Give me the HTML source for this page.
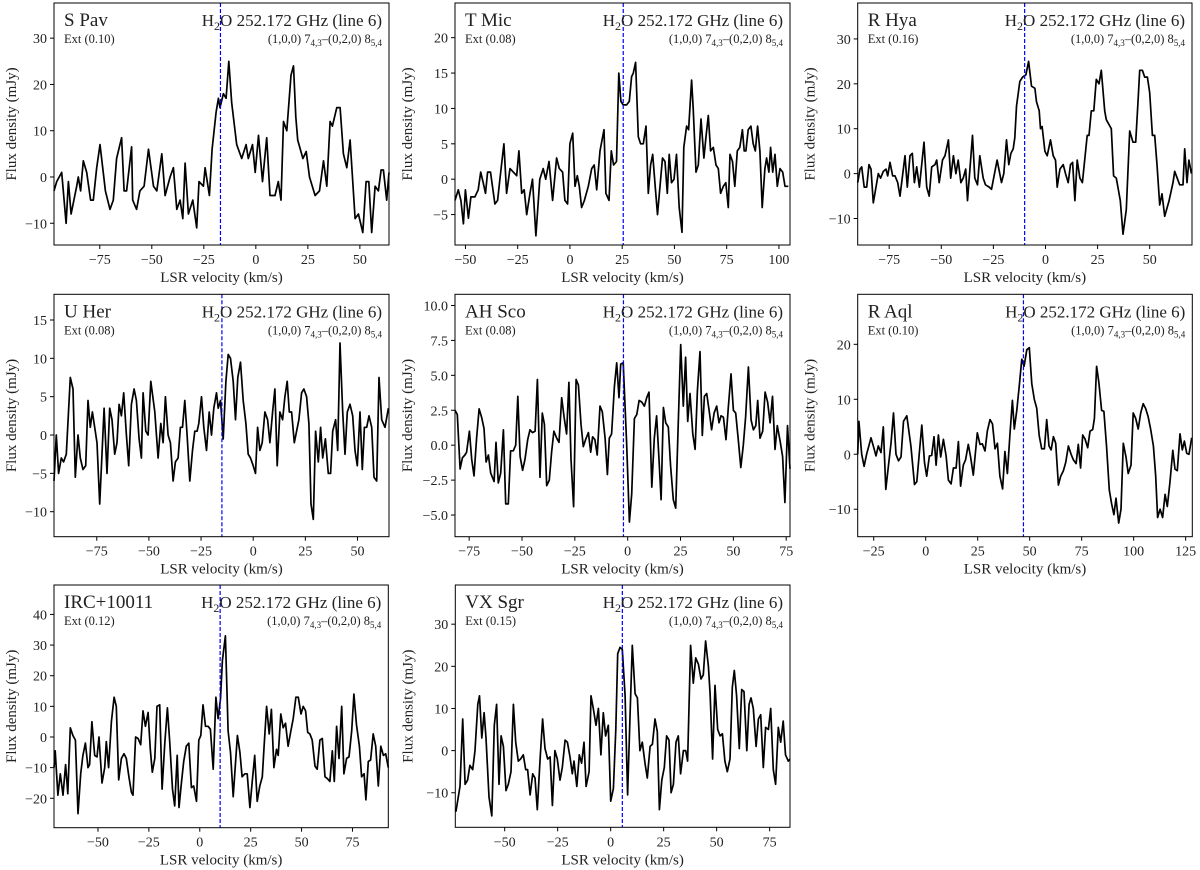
<!DOCTYPE html>
<html><head><meta charset="utf-8"><style>
html,body{margin:0;padding:0;background:#fff;}
svg{display:block;font-family:"Liberation Serif","DejaVu Serif",serif;}
</style></head><body>
<svg id="fig" width="1200" height="870" viewBox="0 0 1200 870" xmlns="http://www.w3.org/2000/svg"></svg>
<script>
const sPavVel=[-97,-95.7,-93.3,-91.2,-90.1,-88.8,-86.1,-85.3,-84.2,-82.9,-81.3,-79.4,-78.1,-76.5,-74.9,-72.3,-70.1,-68.5,-66.9,-64.5,-63.3,-62.1,-59.7,-59.2,-57.3,-55.7,-53.7,-51.6,-49.2,-47.6,-45.2,-43.6,-41.2,-39.6,-38,-36.4,-35.1,-34,-32.4,-30.3,-28.4,-27.3,-25.2,-24.4,-22.3,-21,-19.1,-18,-17.2,-15.6,-14.3,-13,-11.6,-9.2,-6.8,-4.7,-3.6,-1.6,-0.3,1.3,3.2,5.2,6.8,9.2,10.8,12.1,13.3,14.9,16.9,18.1,19.2,20.1,22.6,24.2,25.8,28.5,30.6,32.5,34.1,35.7,36.8,38.9,40.5,42.1,43.7,45.3,47.7,49.3,51.4,53,54.3,55.7,57.3,58.9,60.2,61.3,62.9,64];
const sPavFlux=[-3,-1,1,-10,-1,-8,-2,0,-3,3.5,1,-5,-5,2,7,-3,-7,-5,4,8.5,-3,-3,6.5,-5,-7,-3,-2,6,-2,-3,5,-4,0,2,-7,-5,-9,3,-8,-5,-11,-1,-2,2,-4,6,14,17,15,18,17,25,16,7,4,7,4,7,1,9,-1,8.5,-4,-4,-1,-5,12,10,22,24,13,8,4,5.5,0,-4,-3,3.5,-2,12,11,15,15,5,2,8,-9,-8,-12,-1,-1,-12,-2,-3,1.5,1.5,-5,1];

const tMicVel=[-55,-53.4,-52.2,-51,-50,-48.6,-47.4,-45.5,-43.9,-42.7,-41.5,-40.4,-39.4,-38,-35.9,-34.6,-33.5,-31.6,-30.3,-28.7,-27.1,-25.5,-24.4,-23.1,-21.9,-20.7,-19.1,-17.9,-16.3,-14.4,-12.8,-11.6,-10,-8.3,-6.4,-5.1,-3.5,-2.4,-1.1,0,1.3,2.4,3.5,4.5,5.6,6.9,8.8,10.4,11.6,12.8,14.4,16.3,17.2,18.7,19.8,20.9,22.3,23.4,24.4,25.5,27.1,28.4,29.5,30.3,31.4,32.7,33.8,35.1,36.4,37.5,38.6,39.6,40.8,41.9,43.1,44.3,45.5,46.6,47.5,48.6,49.8,51,52.3,53.6,54.5,55.8,56.8,58.2,59,60.3,61.4,62.7,64.1,65.1,66.2,67.3,68.6,69.9,71,72.1,73.4,74.6,75.8,76.6,77.8,78.9,80.1,81.3,82.5,83.4,84.2,85.3,86.6,87.7,88.7,89.8,90.9,92,93.3,94.1,95.2,96,97,98.1,99.2,100.5,101.8,102.9,104.5];
const tMicFlux=[-3,-1.5,-3,-6.3,-1.5,-5.5,-2.5,-2.5,-1.5,1,-0.5,-2,1,1,-3.5,-3,0,5,-2,1.5,1,0.5,4,-2,-1.5,-5,-2,0,-8,0,1.5,0,2.5,-3,3,1.5,1,-3,-3.5,5,6.5,-1,0.5,-1,-4,-3,-1,1.5,2,-1.5,4,7,-2,-3,4,2,2.5,15,11,10.5,10.5,11,14.5,15,16.5,6,5,5,7.5,-2,2,3.5,-1,-5,-1,3,2.5,-2,3.5,-0.5,0,3.5,-4,-7.5,4.5,7.5,7,14,10,1,2,8.5,3,6,9,4,4.5,2,1.5,-2,-1,-0.5,-4,3.5,2.5,-1,4,4.5,7,4,4,7,7.5,5,4,7.5,4,-4,1.5,3,1,4.5,1,3.5,-1,1.5,1,-1,-1];

const rHyaVel=[-90.1,-89,-88.2,-87,-85.8,-84.7,-83.7,-82.6,-81.3,-80.2,-79.1,-77.8,-76.5,-75.7,-74.6,-73.3,-72.2,-70.9,-69.8,-67.4,-66.3,-65,-63.9,-62.9,-61.8,-60.5,-58.3,-57,-55.8,-54.6,-53,-52.2,-51,-49.4,-48.2,-46.6,-45.5,-44.2,-43,-41.9,-40.6,-39.5,-38.3,-37.4,-35,-33.9,-32.6,-31.5,-29.9,-28.8,-27,-25.9,-23.2,-21.1,-20,-18.7,-17.6,-16.6,-15.5,-14.7,-13.9,-12.3,-11,-9.4,-8.1,-6.7,-5.1,-4.3,-3,-2.4,-1.6,-0.3,0.8,2.4,3.7,4.8,5.6,6.9,8.5,9.6,10.9,12,13,14.1,15.2,16.5,17.7,20,20.9,22,23.2,24.4,25.7,26.8,28.4,29.2,31.6,32.7,34,35.9,37.2,38.8,40.4,42,43.3,44.4,45.2,46.5,47.6,48.9,50,51.3,52.4,53.5,54.8,55.9,57.2,59.3,61.2,62,64.4,66,66.8,67.9,68.8,70];
const rHyaFlux=[-2,1,1.5,-3,-3,2,1,-6.5,-3,0,-1,0.5,1,-0.5,2.5,-0.5,-0.5,-2,-5,4,-3,4,4.5,-2,1.5,-3,7,-3,-5,1.5,2,3,-2,3,4,7.5,-1,4,0,3,-2,-1,1,-6,8.5,-1,-2.5,4,-1,-2.5,-3,-3.5,3,-2,0,7.5,2,4.5,5.5,8,15,20.5,21.5,22,25,19.5,19,16,14,10,10.5,5,4,7.5,4,3,-3,1,2,0,-2,2,2.5,-6,3,-1,-2,8.5,8.5,14,14,21,20,23,14,12,10,-0.5,-1,-6,-13.5,-8,9.5,7,7,16,23,23,21.5,21.5,18,8.5,8.5,2,-7,-4.5,-9.5,-6,-2,0.5,-2.5,-2.5,5.5,-2,3,0];

const uHerVel=[-95.5,-94.4,-93.3,-92,-90.9,-89.6,-87.7,-86.4,-85.3,-84,-82.9,-81.6,-80.3,-79.2,-78.1,-77.1,-74.9,-73.6,-71.5,-70.1,-68.8,-67.7,-66.4,-65.3,-64.3,-63.2,-62.1,-60.8,-59.7,-58.4,-57.1,-56,-54.7,-53.6,-52.8,-51.5,-50.4,-49.1,-47.2,-45.6,-44.3,-43.2,-42.1,-40.8,-39.7,-38.4,-37.3,-36,-34.9,-33.9,-32.8,-31.7,-30.4,-29.1,-28,-26.9,-26.1,-24.8,-23.7,-22.4,-21.1,-20,-18.9,-17.6,-16.8,-15.7,-14.4,-13.1,-12,-10.9,-9.6,-8.5,-7.4,-6.1,-4.8,-3.5,-2.4,-1.3,0,1.1,2.1,3.2,4.3,5.6,6.9,8,9.3,10.4,11.5,12.8,14.1,15.2,16.3,17.3,18.4,19.7,20.8,21.9,23.2,24.3,25.6,26.7,27.7,28.8,29.9,31.2,32.3,33.3,34.6,36,37.1,38.1,39.5,40.5,41.6,42.9,44,45.1,46.4,47.7,48.8,49.9,51.2,52.3,53.3,54.4,55.5,56.8,57.9,59.2,60.3,61.6,63.2,64.8];
const uHerFlux=[-6,0,-5,-3,-3.5,-2.5,7.5,6,-5.5,0,-3,-4.5,-4,4.5,1,3,-1,-9,3.5,-5,3.5,2,-2.5,-1,4,2.5,5.5,0,-4,4,6,4.5,-0.5,-3,5.5,0.5,0,7,3,-3,1.5,-1,5,0,-1,-6,-3.5,-3,1,1,4.5,0,-6,-2,0.5,0.5,1.5,5,1,-2,3,0,3.5,5.5,3.5,4.5,-0.5,7,10.5,10,7,2,7.5,9.5,4.5,1.5,-2.5,-3,-4,-5,1,-2,-1,3,2,-1,3,6,-4,3,2,5,7,3,3,-1,0.5,2,5.5,6,5,1.5,-9,-11,0.5,-3.5,1,-3,-0.5,-5,-5,0.5,2,-2,12,3,-2.5,3,4,2.5,-2,-4,3,-4.5,1,1,2.5,1,-5.5,-6,7.5,2,1,3.5];

const ahScoVel=[-81.7,-80.6,-79.3,-78.2,-77,-76.2,-74.9,-73.8,-72.7,-71.5,-70.3,-69.1,-68,-67,-65.9,-64.8,-63.2,-62.3,-61.2,-60.1,-58.8,-57.7,-56.5,-55.4,-54.1,-53,-52,-50.9,-49.7,-48.6,-47.3,-46.2,-45.1,-43.8,-42.7,-41.5,-40.4,-39.4,-38.3,-37.1,-36,-34.9,-33.6,-32.5,-31.2,-30.1,-28.9,-27.8,-26.8,-25.6,-24.4,-23.3,-22.1,-21,-19.9,-18.6,-17.5,-16.6,-15.5,-14.4,-13.1,-12,-10.7,-9.6,-8.7,-7.6,-6.3,-5.2,-4.1,-3.3,-2.1,-0.5,0.8,1.9,3.2,4.3,5.4,6.6,7.9,9,10.1,11.4,12.6,13.7,14.8,15.8,16.9,18,19.2,20.3,21.6,22.7,23.7,25.1,26.3,27.4,28.4,29.5,30.8,31.9,33,34.2,35.3,36.3,37.4,38.6,39.7,40.9,42.1,43.2,44.2,45.3,46.5,47.6,48.9,50,51.1,52.4,53.5,54.7,55.8,57.1,58.4,59.5,60.6,61.5,62.6,63.9,65,66.2,67.4,68.5,69.7,70.8,72.1,73.3,74.4,75.6,76.8];
const ahScoFlux=[2.5,2.2,-1.7,-0.9,-0.7,-0.5,1,-1,-2.2,0.5,2.6,2,1.2,-1.2,-0.7,-2,-2.6,0.2,-2.7,-2,1.1,-4.2,-4.2,-0.4,-0.4,0,3.5,-0.8,-1.8,-1,0.4,1.1,0.9,1,4.7,-2.3,2.3,1.5,-2.9,-2.5,-0.5,1,0.5,0.2,3.4,2,0.8,4.5,-1,-4.4,4.7,4.3,1.5,-0.1,0.4,0.9,-0.5,0.6,0.4,-0.7,2.8,2.4,0.5,-2.1,0.5,0.8,4.2,5.9,3.4,5.8,5.9,0.2,-5.5,-3.5,1.9,2.2,3.2,3.1,2.8,3.4,3.8,-3,0.5,2.1,-1,-3.9,2.7,1.6,1.3,-1.5,-3.9,-4.5,0.5,7.2,2.8,6.3,1.7,3.7,0.8,-0.3,3.9,6.7,0.7,3.5,3.7,2.4,1.1,2.3,2.8,1.6,2.1,2,0.4,2.7,5.1,2.5,2.3,0.3,-1.6,0,2,5.6,1.8,1.1,1.4,3.2,0.5,1,3.8,3.1,1.6,3.5,-0.3,1.4,0.3,-0.8,-4.1,1.4,-1.7];

const rAqlVel=[-32.7,-32.1,-30.8,-29.6,-28.4,-26.3,-24.8,-23.9,-22.8,-21.5,-20.4,-19.2,-17.9,-16.7,-15.5,-14.3,-13.1,-11.9,-10.7,-9.1,-7.1,-5.4,-4.3,-1.9,-0.6,0.5,1.8,2.9,4,5,6.1,7.2,8.5,9.8,10.9,12.2,13.3,14.6,15.7,16.8,18.1,19.2,20.5,21.6,22.9,24.8,26.1,27.2,28.5,29.6,30.9,32.1,33.3,34.5,35.7,37,38.1,39.3,40.5,41.7,42.6,43.8,45,46.2,47.3,48.6,49.8,51,52.2,53.4,54.6,55.8,57.1,58.2,59.3,60.3,61.4,62.5,63.8,64.9,66.2,67.3,68.6,69.9,71,72.3,73.4,74.5,75.5,76.6,77.9,79,80.3,81.1,82.2,83.3,84.6,85.7,87,88.3,89.4,90.5,91.5,92.8,93.9,95,96.3,97.4,98.7,99.8,101,102.2,103.4,104.6,105.8,107,108.2,109.5,110.6,111.5,112.7,113.9,115.1,116.2,117.5,118.8,119.9,121,122.3,123.4,124.4,125.5,126.6,127.9];
const rAqlFlux=[0,6,0,-2.2,0,3,1,-0.3,1.5,0.3,5,-6.4,-2,2,7.5,0,-1.2,-0.5,6,7,1.5,-5.5,-5,5.3,-1.5,-4,-0.3,-0.2,3.2,-2,3.5,-0.5,2.7,-0.3,-4.7,-5.4,-2.5,-2.5,2.3,-5.8,-2,-1,1.8,-0.5,-3.8,3.9,1.8,1.9,0.6,4.2,6.3,5.5,1,2,-4,-6.3,0.5,-3.5,3.5,9.8,4.6,8,12.5,17.3,16,19,19.4,12.8,10,8.4,3.4,1,1,6.3,1.5,0.8,3.2,2,-5.6,-4,-3,-1.5,1.5,0,-1,-1.7,1.8,-2.5,3.5,2.8,1.2,4.2,4.5,6.5,16,13,8,7.8,1.3,-6.5,-9,-11,-8,-12.5,-10,2,-0.5,-3.5,-2,7.5,6.5,4.6,7.5,9.2,8.3,6.8,4.5,1.5,-4,-11.5,-10,-11.5,-7.3,-9.5,-5,0.7,-2.7,-3,3.7,0.8,2.4,0.2,0,3];

const ircVel=[-71.6,-71,-69.7,-68.5,-67.2,-65.9,-64.8,-63.6,-62.3,-61.1,-59.8,-58.5,-57.4,-56.2,-54.9,-54.1,-53,-51.6,-50.5,-49.5,-48,-46.7,-45.9,-44.8,-43.4,-42.1,-41,-39.8,-38.5,-37.2,-36.1,-34.8,-33.6,-32.8,-31.5,-30.3,-29,-27.9,-26.7,-25.4,-24.3,-23.3,-22.1,-21,-19.7,-18.5,-17.2,-15.9,-14.8,-13.4,-12.3,-11.1,-10.2,-9,-7.9,-6.6,-5.4,-4.1,-3,-1.6,-0.5,0.5,1.6,2.8,4.1,5.2,6.6,7.9,9,10.2,11.1,12.6,13.9,15.1,16.4,17.5,18.5,19.7,20.8,22.1,23.3,24.6,25.7,27,28.2,29.5,30.7,31.6,32.8,34.1,35.2,36.4,37.7,38.5,39.8,41,42.1,43.4,44.6,45.9,47.2,48.4,49.7,50.8,52,53,54.1,55.2,56.6,57.7,59,60.2,61.5,62.6,63.9,65.1,66.1,67.2,68.4,69.7,70.8,72.1,73.3,74.6,75.7,77,78.4,79.5,80.7,81.6,82.8,83.9,85.2,86.4,87.7,88.9,90.2,91.3,92.6];
const ircFlux=[-10,-4.5,-19,-12,-19,-9,-18.5,3,0.5,-1,-25,-12,-6,-2,-10,-9,5,-6,-6.5,0,-15,-10,-1.5,-10,5,13,10,-14,-7,-5.5,-7,-13,-18,-19,0,-0.5,-2.5,8.5,3.5,8,-4,-11.5,-7,10,10.5,-17,-2,9.5,-1,-17,-22.5,-6,-23,-15,-8,-3,-2,-16.5,-16,-21,-1,0.5,10.5,3.5,3.5,2.5,-10.5,13,6,12.5,25,33,2,-5,-19.5,-9,0.5,-5,-13,-12,-12,-23,-15,-6,-21,-16,-13,-3,10,1,9,-10,-4,-6,7.5,3,4.5,-3,1.5,6,13,13,7.5,10,8.5,1.5,1,-1,-9.5,-10.5,-1,-0.5,-13,-13.5,-14.5,-4.5,-14.5,3.5,-7,10,-12,-7,-6.5,2,14,4,-3,-13,-12,-20.5,-8,-7.5,1,-3,-16,-3,-6,-5.5,-10];

const vxSgrVel=[-73,-71.1,-69.8,-68.7,-67.5,-66.4,-65.1,-64,-62.7,-61.9,-60.8,-59.7,-58.8,-57.4,-56.1,-54.9,-53.8,-52.7,-51.7,-50.6,-49.4,-48.3,-47,-45.9,-44.8,-43.6,-42.5,-41.2,-40.1,-39.2,-38,-36.8,-35.7,-34.6,-33.3,-32.1,-31,-29.7,-28.6,-27.5,-26.3,-25.2,-23.9,-22.8,-21.5,-20.4,-19.2,-18.1,-17.3,-16,-14.8,-13.7,-12.6,-11.6,-10.2,-9.3,-8.2,-6.9,-5.8,-4.6,-3.5,-2.4,-1.1,0,1.3,2.4,3.3,4.4,5.5,6.8,8,9.1,10.2,11.5,12.6,13.8,14.9,16.2,17.3,18.6,19.7,20.9,22,23,24.1,25.3,26.4,27.5,28.5,29.6,30.8,31.9,33,34.3,35.4,36.3,37.7,39,40.1,41.4,42.6,43.7,44.8,46.1,46.9,48.1,49.2,50.5,51.6,52.7,53.9,55,56.3,57.4,58.3,59.4,60.7,61.8,62.9,64.2,65.3,66.2,67.3,68.6,69.7,70.8,72,73.1,74.4,75.5,76.7,77.8,79.1,80.2,81.4,82.5,83.8,84.6];
const vxSgrFlux=[-14.5,-8.5,7.5,-8,-7,-3.5,-4.5,0,11,13,3,9,3,-11,-15.5,6,11,-8,3.5,1,-9.5,-8,-5,11,2,-2.5,-2,-1,-4.5,-4.5,-10.5,-5.5,-6.5,-14,-2,7.5,0.5,-2,-1.5,-13,0,-2,-7,-4,2.5,2,-1.5,-5.5,-2.5,-8.5,-1,-3,2,-8.5,-5,13,10,6,10,-1,9,3.5,6,-12,-9,5,23,24.5,24,13,-10.5,8,25,13.5,12.5,0,2,-3,-6.5,1,1.5,7.5,4.5,-14,-7,-4,3.5,2.5,-10,-8,2,3.5,-5.5,0,0,-2.5,25,16,22,20.5,17,18,26,20,13.5,-2,15.5,5,3.5,4,-2.5,-5,-2,15,19,13,0.5,14.5,14,0,11,12.5,10,1,7.5,8.5,-4,5.5,5,10,-4.5,-8,5.5,2,7,-1,-2.5,-2];

const panelNames=["S Pav","T Mic","R Hya","U Her","AH Sco","R Aql","IRC+10011","VX Sgr"];
const extLabels=["Ext (0.10)","Ext (0.08)","Ext (0.16)","Ext (0.08)","Ext (0.08)","Ext (0.10)","Ext (0.12)","Ext (0.15)"];
const systemicVel=[-17,25.5,-10,-15,-2,47,10,5.5];
const xDomains=[[-97,64],[-55,105.3],[-90.1,70.3],[-95.5,65.1],[-81.7,76.8],[-32.7,128.2],[-71.6,92.6],[-73.3,84.6]];
const yDomains=[[-14.7,37.6],[-9.3,24.9],[-15.9,38],[-13.26,18.35],[-6.55,10.8],[-15,29.1],[-29.6,49.6],[-18.2,39.3]];
const xTicks=[[-75,-50,-25,0,25,50],[-50,-25,0,25,50,75,100],[-75,-50,-25,0,25,50],[-75,-50,-25,0,25,50],[-75,-50,-25,0,25,50,75],[-25,0,25,50,75,100,125],[-50,-25,0,25,50,75],[-50,-25,0,25,50,75]];
const yTicks=[[-10,0,10,20,30],[-5,0,5,10,15,20],[-10,0,10,20,30],[-10,-5,0,5,10,15],[-5,-2.5,0,2.5,5,7.5,10],[-10,0,10,20],[-20,-10,0,10,20,30,40],[-10,0,10,20,30]];
const yTickDecimals=[0,0,0,0,1,0,0,0];
const velSeries=[sPavVel,tMicVel,rHyaVel,uHerVel,ahScoVel,rAqlVel,ircVel,vxSgrVel];
const fluxSeries=[sPavFlux,tMicFlux,rHyaFlux,uHerFlux,ahScoFlux,rAqlFlux,ircFlux,vxSgrFlux];
const boxes=[[54,3,389,245],[455,3,790,245],[857.7,3,1192,245],[54,294.3,389,536.7],[455,294.3,790,536.7],[857.7,294.3,1192.3,536.7],[54,585,388.3,827.7],[455.3,585,790,827.3]];

const NS="http://www.w3.org/2000/svg";
const svg=document.getElementById('fig');
function mk(tag,attrs,parent){const e=document.createElementNS(NS,tag);for(const k in attrs)e.setAttribute(k,attrs[k]);(parent||svg).appendChild(e);return e;}
function fmt(v,d){let s=v.toFixed(d);if(v<0)s='\u2212'+s.slice(1);return s;}

for(let p=0;p<8;p++){
  const [x0,y0,x1,y1]=boxes[p];
  const [xa,xb]=xDomains[p],[ya,yb]=yDomains[p];
  const sx=v=>x0+(v-xa)/(xb-xa)*(x1-x0);
  const sy=v=>y1-(v-ya)/(yb-ya)*(y1-y0);
  const g=mk('g',{});
  
  
  const pts=velSeries[p].map((v,i)=>sx(v).toFixed(1)+','+sy(fluxSeries[p][i]).toFixed(1)).join(' ');
  const line=mk('polyline',{points:pts,fill:'none',stroke:'#000','stroke-width':1.7,'stroke-linejoin':'round'},g);
  
  
  const vl=mk('line',{x1:sx(systemicVel[p]),x2:sx(systemicVel[p]),y1:y0,y2:y1,stroke:'#0000ff','stroke-width':1.2,'stroke-dasharray':'4,2'},g);
  
  
  const fr=mk('rect',{x:x0,y:y0,width:x1-x0,height:y1-y0,fill:'none',stroke:'#000','stroke-width':1},g);
  
  
  xTicks[p].forEach(t=>{
    const x=sx(t);
    const tk=mk('line',{x1:x,x2:x,y1:y1,y2:y1+4,stroke:'#000','stroke-width':1},g);
    
    
    const tl=mk('text',{x:x,y:y1+19,'font-size':14,'text-anchor':'middle',fill:'#222'},g);
    tl.textContent=fmt(t,0);
    
    
  });
  yTicks[p].forEach(t=>{
    const y=sy(t);
    const tk=mk('line',{x1:x0-4,x2:x0,y1:y,y2:y,stroke:'#000','stroke-width':1},g);
    
    
    const tl=mk('text',{x:x0-7,y:y+5,'font-size':14,'text-anchor':'end',fill:'#222'},g);
    tl.textContent=fmt(t,yTickDecimals[p]);
    
    
  });
  const xl=mk('text',{x:(x0+x1)/2,y:y1+37,'font-size':15,'text-anchor':'middle',fill:'#222'},g);
  xl.textContent='LSR velocity (km/s)';
  
  
  const yc=(y0+y1)/2;
  const yl=mk('text',{x:0,y:0,'font-size':15,'text-anchor':'middle',fill:'#222',transform:`translate(${p%3===0?16:x0-43},${yc}) rotate(-90)`},g);
  yl.textContent='Flux density (mJy)';
  
  
  const nm=mk('text',{x:x0+10,y:y0+23,'font-size':19,fill:'#222'},g);
  nm.textContent=panelNames[p];
  
  
  const ex=mk('text',{x:x0+10,y:y0+40,'font-size':12.5,fill:'#222'},g);
  ex.textContent=extLabels[p];
  
  
  const tt=mk('text',{x:x1-7,y:y0+23,'font-size':17,'text-anchor':'end',fill:'#222'},g);
  tt.innerHTML='H<tspan font-size="12" dy="4">2</tspan><tspan dy="-4">O 252.172 GHz (line 6)</tspan>';
  
  
  const tr=mk('text',{x:x1-7,y:y0+40,'font-size':12.5,'text-anchor':'end',fill:'#222'},g);
  tr.innerHTML='(1,0,0) 7<tspan font-size="9" dy="3">4,3</tspan><tspan dy="-3">\u2013(0,2,0) 8</tspan><tspan font-size="9" dy="3">5,4</tspan>';
  
  
}
</script>
</body></html>
